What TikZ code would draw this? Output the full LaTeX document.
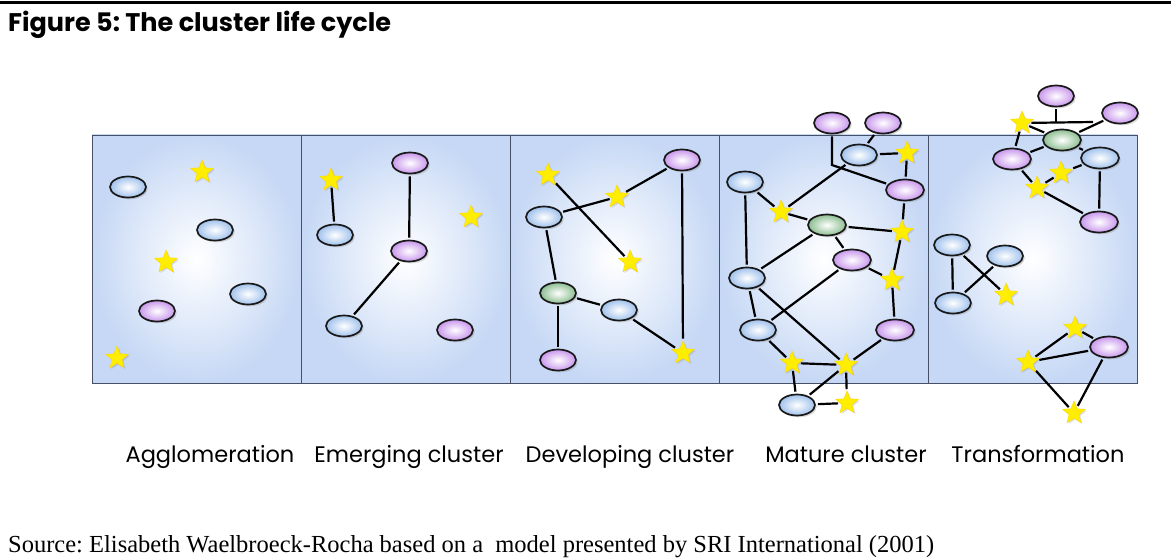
\documentclass[tikz,border=0pt]{standalone}
\usepackage{fontspec}
\usetikzlibrary{shapes.geometric,shadows}

\newfontfamily\gothic{Poppins}
\newfontfamily\garamond{Liberation Serif}
\frenchspacing

\definecolor{panelblue}{RGB}{198,216,245}
\definecolor{panelline}{RGB}{70,80,100}
\definecolor{cellblue}{RGB}{160,193,236}
\definecolor{cellpurple}{RGB}{200,150,236}
\definecolor{cellgreen}{RGB}{140,190,144}
\definecolor{staryellow}{RGB}{255,238,0}

\pgfdeclarelayer{panels}
\pgfdeclarelayer{links}
\pgfsetlayers{panels,links,main}

\newcommand*\panelwidth{209}
\tikzset{
    cell/.style={
        ellipse,
        draw=black!90,
        line width=1.7pt,
        minimum width=36pt,
        minimum height=21pt,
        inner sep=0pt,
        shading=radial,
        inner color=white,
        outer color=#1,
        drop shadow={opacity=0.3, shadow xshift=1.8pt, shadow yshift=-1.8pt}
    },
    bl/.style={cell=cellblue},
    pu/.style={cell=cellpurple},
    gr/.style={cell=cellgreen},
    firm/.style={
        star,
        star points=5,
        star point ratio=2.3,
        minimum size=24pt,
        inner sep=0pt,
        fill=staryellow,
        draw=yellow!75!orange,
        line width=0.4pt,
        drop shadow={opacity=0.25, shadow xshift=1.4pt, shadow yshift=-1.4pt}
    },
    link/.style={draw, line width=2.2pt, shorten <=2pt, shorten >=2pt},
    panel/.style={draw=panelline, line width=0.9pt, shading=radial,
        inner color=white, outer color=panelblue},
    stage/.style={anchor=base, font=\gothic\fontsize{22.5}{26}\selectfont}
}

\begin{document}
\begin{tikzpicture}[x=1pt,y=-1pt]

    \useasboundingbox (0,0) rectangle (1171,559);

    % Title and rule.
    \draw[line width=3pt] (0,2.5) -- (1171,2.5);
    \node[anchor=base west, inner sep=0pt,
        font=\gothic\bfseries\fontsize{25.5}{30}\selectfont] (title) at (8,32)
        {Figure 5: The cluster life cycle};

    % The five panels.
    \begin{pgfonlayer}{panels}
        \foreach \i in {0,...,4}
            \path[panel] ({92+\panelwidth*\i},135) rectangle ++(\panelwidth,248);
    \end{pgfonlayer}

    % Agglomeration
    \node[bl] (A-b1) at (128,187) {};
    \node[firm] (A-s1) at (202,172) {};
    \node[bl] (A-b2) at (215,230) {};
    \node[firm] (A-s2) at (166,262) {};
    \node[bl] (A-b3) at (248,294) {};
    \node[pu] (A-p1) at (157,311) {};
    \node[firm] (A-s3) at (117,358) {};

    % Emerging cluster
    \node[firm] (B-s1) at (331,180) {};
    \node[bl] (B-b1) at (335,235) {};
    \node[pu] (B-p1) at (410,163) {};
    \node[firm] (B-s2) at (471,217) {};
    \node[pu] (B-p2) at (409,251) {};
    \node[bl] (B-b2) at (344,326) {};
    \node[pu] (B-p3) at (455,330) {};

    % Developing cluster
    \node[firm] (C-s1) at (548,175) {};
    \node[pu] (C-p1) at (682,160) {};
    \node[firm] (C-s2) at (617,197) {};
    \node[bl] (C-b1) at (544,217) {};
    \node[firm] (C-s3) at (630,262) {};
    \node[gr] (C-g1) at (558,293) {};
    \node[bl] (C-b2) at (619,310) {};
    \node[pu] (C-p2) at (558,360) {};
    \node[firm] (C-s4) at (683,353) {};

    % Mature cluster
    \node[pu] (D-p1) at (832,123) {};
    \node[pu] (D-p2) at (883,123) {};
    \node[bl] (D-b1) at (859,155) {};
    \node[firm] (D-s1) at (907,153) {};
    \node[bl] (D-b2) at (745,182) {};
    \node[pu, minimum width=38pt] (D-p3) at (905,190) {};
    \node[firm] (D-s2) at (781,212) {};
    \node[gr, minimum width=38pt] (D-g1) at (827,225) {};
    \node[firm] (D-s3) at (902,232) {};
    \node[pu, minimum width=38pt] (D-p4) at (852,260) {};
    \node[firm] (D-s4) at (892,280) {};
    \node[bl] (D-b3) at (747,278) {};
    \node[bl] (D-b4) at (758,330) {};
    \node[pu, minimum width=38pt] (D-p5) at (895,330) {};
    \node[firm] (D-s5) at (792,363) {};
    \node[firm] (D-s6) at (846,365) {};
    \node[bl] (D-b5) at (797,405) {};
    \node[firm] (D-s7) at (847,403) {};
    \coordinate (D-bend) at (832,165);

    % Transformation
    \node[pu] (E-p1) at (1056,96) {};
    \node[pu] (E-p2) at (1120,113) {};
    \node[firm] (E-s1) at (1022,123) {};
    \node[gr, minimum width=38pt] (E-g1) at (1062,140) {};
    \node[pu, minimum width=38pt] (E-p3) at (1012,159) {};
    \node[bl, minimum width=38pt] (E-b1) at (1100,158) {};
    \node[firm] (E-s2) at (1061,173) {};
    \node[firm] (E-s3) at (1037,188) {};
    \node[pu, minimum width=38pt] (E-p4) at (1099,222) {};
    \node[bl] (E-b2) at (952,245) {};
    \node[bl] (E-b3) at (1005,256) {};
    \node[bl] (E-b4) at (953,303) {};
    \node[firm] (E-s4) at (1006,295) {};
    \node[firm] (E-s5) at (1075,328) {};
    \node[pu, minimum width=38pt] (E-p5) at (1109,347) {};
    \node[firm] (E-s6) at (1028,362) {};
    \node[firm] (E-s7) at (1074,413) {};
    \coordinate (E-bar) at (1093,122);

    % Draw the links between firms.
    \begin{pgfonlayer}{links}
        \draw[link] (B-s1) -- (B-b1);
        \draw[link] (B-p1) -- (B-p2);
        \draw[link] (B-p2) -- (B-b2);

        \draw[link] (C-s1) -- (C-s3);
        \draw[link] (C-b1) -- (C-s2);
        \draw[link] (C-s2) -- (C-p1);
        \draw[link] (C-p1) -- (C-s4);
        \draw[link] (C-b1) -- (C-g1);
        \draw[link] (C-g1) -- (C-b2);
        \draw[link] (C-b2) -- (C-s4);
        \draw[link] (C-g1) -- (C-p2);

        \draw[link] (D-p1) -- (D-bend) -- (D-p3);
        \draw[link] (D-b1) -- (D-s2);
        \draw[link] (D-p2) -- (D-b1);
        \draw[link] (D-b1) -- (D-s1);
        \draw[link] (D-s1) -- (D-p3);
        \draw[link] (D-p3) -- (D-s3);
        \draw[link] (D-b2) -- (D-s2);
        \draw[link] (D-b2) -- (D-b3);
        \draw[link] (D-s2) -- (D-g1);
        \draw[link] (D-g1) -- (D-s3);
        \draw[link] (D-g1) -- (D-p4);
        \draw[link] (D-g1) -- (D-b3);
        \draw[link] (D-s3) -- (D-s4);
        \draw[link] (D-p4) -- (D-s4);
        \draw[link] (D-p4) -- (D-b4);
        \draw[link] (D-b3) -- (D-b4);
        \draw[link] (D-b3) -- (D-s6);
        \draw[link] (D-s4) -- (D-p5);
        \draw[link] (D-p5) -- (D-s6);
        \draw[link] (D-b4) -- (D-s5);
        \draw[link] (D-s5) -- (D-s6);
        \draw[link] (D-s5) -- (D-b5);
        \draw[link] (D-b5) -- (D-s6);
        \draw[link] (D-b5) -- (D-s7);
        \draw[link] (D-s6) -- (D-s7);

        \draw[link, shorten >=0pt] (E-s1) -- (E-bar);
        \draw[link, shorten >=0pt] (E-p1) -- (E-p1 |- E-bar);
        \draw[link] (E-p2) -- (E-g1);
        \draw[link] (E-s1) -- (E-g1);
        \draw[link] (E-s1) -- (E-p3);
        \draw[link] (E-p3) -- (E-g1);
        \draw[link] (E-g1) -- (E-b1);
        \draw[link] (E-b1) -- (E-s2);
        \draw[link] (E-s2) -- (E-s3);
        \draw[link] (E-p3) -- (E-s3);
        \draw[link] (E-s3) -- (E-p4);
        \draw[link] (E-b1) -- (E-p4);
        \draw[link] (E-b2) -- (E-b4);
        \draw[link] (E-b2) -- (E-s4);
        \draw[link] (E-b4) -- (E-b3);
        \draw[link] (E-s6) -- (E-s5);
        \draw[link] (E-s5) -- (E-p5);
        \draw[link] (E-s6) -- (E-p5);
        \draw[link] (E-s6) -- (E-s7);
        \draw[link] (E-p5) -- (E-s7);
    \end{pgfonlayer}

    % Stage names.
    \node[stage] (agglo) at (210,462) {Agglomeration};
    \node[stage] (emerg) at (409,462) {Emerging cluster};
    \node[stage] (devel) at (630,462) {Developing cluster};
    \node[stage] (matur) at (846,462) {Mature cluster};
    \node[stage] (trans) at (1038,462) {Transformation};

    % Source line.
    \node[anchor=base west, inner sep=0pt,
        font=\garamond\fontsize{24.5}{29}\selectfont] (source) at (8,552)
        {Source: Elisabeth Waelbroeck-Rocha based on a\ \ model presented by SRI International (2001)};

\end{tikzpicture}
\end{document}
